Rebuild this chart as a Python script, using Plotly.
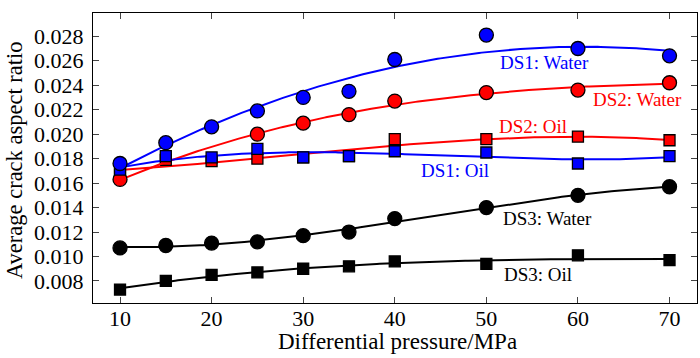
import numpy as np
import plotly.graph_objects as go

pressure = [10, 15, 20, 25, 30, 35, 40, 50, 60, 70]

ds1_water = [0.0176, 0.0193, 0.0206, 0.0219, 0.0230, 0.0235, 0.0261, 0.0281, 0.0270, 0.0264]
ds2_water = [0.0163, None, None, 0.0200, 0.0209, 0.0216, 0.0227, 0.0234, 0.0236, 0.0242]
ds1_oil = [0.0171, 0.0182, 0.0181, 0.0188, 0.0181, 0.0182, 0.0186, 0.0185, 0.0176, 0.0182]
ds2_oil = [0.0167, 0.0179, 0.0178, 0.0180, 0.0181, 0.0182, 0.0196, 0.0196, 0.0198, 0.0195]
ds3_water = [0.0107, 0.0109, 0.0111, 0.0112, 0.0117, 0.0120, 0.0131, 0.0140, 0.0150, 0.0157]
ds3_oil = [0.0073, 0.0080, 0.0085, 0.0087, 0.0090, 0.0092, 0.0096, 0.0094, 0.0101, 0.0097]

y_ticks = [0.008, 0.010, 0.012, 0.014, 0.016, 0.018, 0.020, 0.022, 0.024, 0.026, 0.028]
x_ticks = [10, 20, 30, 40, 50, 60, 70]

FONT = "Liberation Serif"

series = [
    ("DS3: Oil", ds3_oil, "black", "square", 11, 3),
    ("DS3: Water", ds3_water, "black", "circle", 14, 3),
    ("DS2: Oil", ds2_oil, "#ff0000", "square", 11, 3),
    ("DS2: Water", ds2_water, "#ff0000", "circle", 14, 3),
    ("DS1: Oil", ds1_oil, "#0000ff", "square", 11, 3),
    ("DS1: Water", ds1_water, "#0000ff", "circle", 14, 2),
]

fig = go.Figure()
xs = np.array(pressure, dtype=float)
xfine = np.linspace(min(pressure), max(pressure), 200)
for name, vals, color, sym, size, deg in series:
    v = np.array([np.nan if a is None else a for a in vals], dtype=float)
    m = ~np.isnan(v)
    coef = np.polyfit(xs[m], v[m], deg)
    fig.add_trace(go.Scatter(x=xfine, y=np.polyval(coef, xfine), mode="lines",
                             line=dict(color=color, width=2), showlegend=False,
                             hoverinfo="skip"))
    fig.add_trace(go.Scatter(x=xs[m], y=v[m], mode="markers", name=name,
                             marker=dict(symbol=sym, size=size, color=color,
                                         line=dict(color="black", width=1.3)),
                             showlegend=False))

labels = [
    ("DS1: Water", 56.4, 0.02582, "#0000ff"),
    ("DS2: Water", 66.5, 0.02283, "#ff0000"),
    ("DS2: Oil", 55.1, 0.02065, "#ff0000"),
    ("DS1: Oil", 46.6, 0.01706, "#0000ff"),
    ("DS3: Water", 56.7, 0.01312, "black"),
    ("DS3: Oil", 55.6, 0.00857, "black"),
]
for txt, x, y, c in labels:
    fig.add_annotation(x=x, y=y, text=txt, showarrow=False, xref="x", yref="y",
                       font=dict(family=FONT, size=19, color=c),
                       xanchor="center", yanchor="middle")

fig.add_annotation(text="Differential pressure/MPa", xref="paper", yref="paper",
                   x=(397 - 93) / 604, y=-(341 - 303) / 290, showarrow=False,
                   xanchor="center", yanchor="middle",
                   font=dict(family=FONT, size=23, color="black"))
fig.add_annotation(text="Average crack aspect ratio", xref="paper", yref="paper",
                   x=(14 - 93) / 604, y=(303 - 160) / 290, showarrow=False,
                   textangle=-90, xanchor="center", yanchor="middle",
                   font=dict(family=FONT, size=22.5, color="black"))

fig.update_layout(
    width=700, height=358,
    margin=dict(l=93, r=3, t=13, b=55),
    paper_bgcolor="white", plot_bgcolor="white",
    font=dict(family=FONT, size=22, color="black"),
    xaxis=dict(range=[7.05, 73.0], tickvals=x_ticks, ticks="inside", ticklen=6,
               tickwidth=1.2, showline=True, linecolor="black", linewidth=1.3,
               mirror="ticks", showgrid=False, zeroline=False, automargin=False,
               ticklabelstandoff=-5,
               tickfont=dict(family=FONT, size=22, color="black")),
    yaxis=dict(range=[0.0062, 0.0299], tickvals=y_ticks, tickformat=".3f",
               ticks="inside", ticklen=6, tickwidth=1.2, showline=True,
               linecolor="black", linewidth=1.3, mirror="ticks", showgrid=False,
               zeroline=False, automargin=False, ticklabelstandoff=4,
               tickfont=dict(family=FONT, size=22, color="black")),
    showlegend=False,
)

fig.write_html("out.html", config={"displayModeBar": False},
               post_script="document.body.style.margin='0';document.body.style.overflow='hidden';")
